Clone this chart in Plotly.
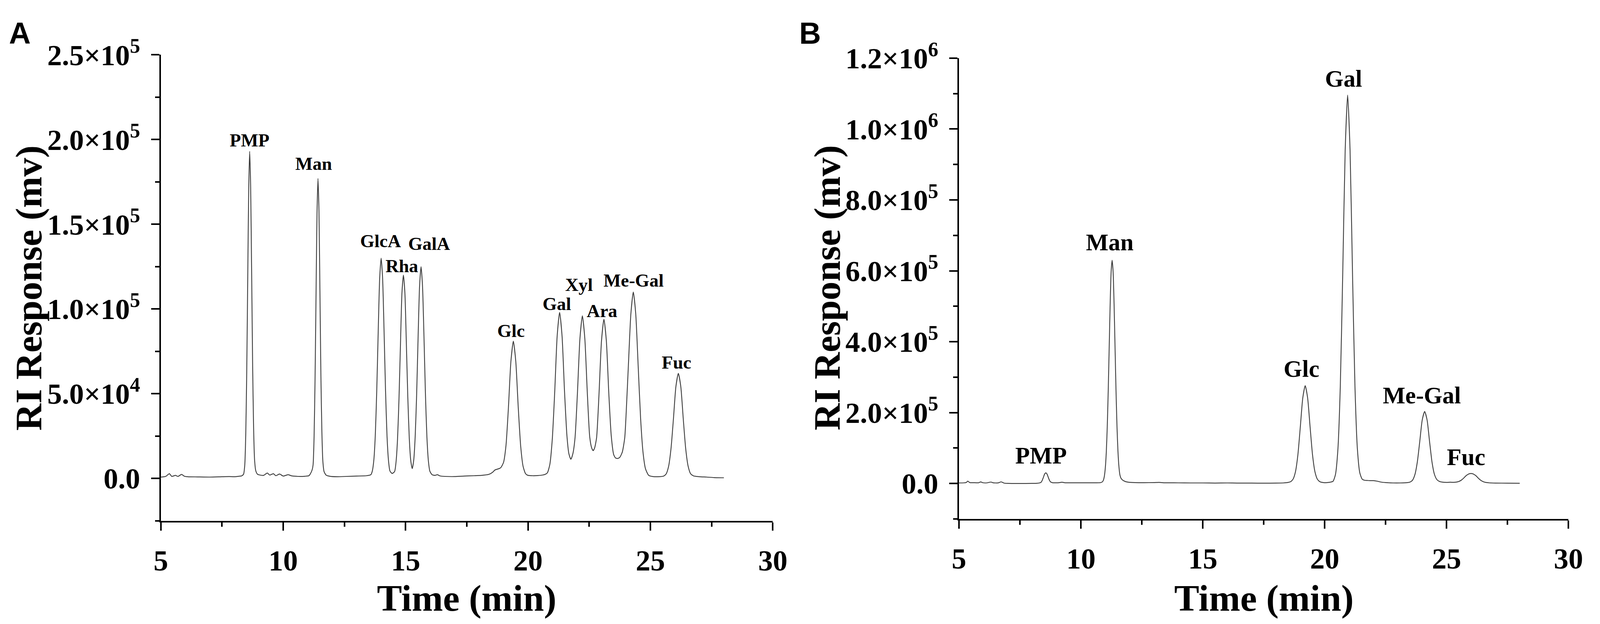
import plotly.graph_objects as go

# ---- data (time in min, response in units of 1e3 mV) ----
# panel A : standard mixture
a_trace = [
    (5.00, 0.8), (5.20, 1.2), (5.35, 2.8), (5.45, 1.2), (5.60, 1.8), (5.70, 1.2), (5.85, 2.4), (5.95, 1.4),
    (6.10, 1.0), (6.50, 0.9), (7.00, 0.8), (7.50, 1.0), (7.80, 1.1), (8.00, 1.0), (8.20, 1.3),
    (8.30, 1.5), (8.38, 2.5), (8.43, 8), (8.47, 26), (8.51, 63), (8.55, 117), (8.59, 170), (8.63, 193),
    (8.67, 172), (8.71, 122), (8.75, 68), (8.79, 30), (8.83, 11), (8.88, 4.5), (8.95, 2.5), (9.05, 2.0),
    (9.20, 1.8), (9.35, 3.2), (9.45, 2.0), (9.60, 2.8), (9.70, 1.6), (9.85, 2.6), (10.00, 1.4), (10.20, 2.2),
    (10.35, 1.5), (10.60, 1.2), (10.90, 1.3), (11.05, 1.6),
    (11.10, 2.5), (11.18, 5), (11.22, 8), (11.26, 24), (11.30, 58), (11.34, 107), (11.38, 156), (11.42, 177),
    (11.46, 158), (11.50, 110), (11.54, 60), (11.58, 27), (11.62, 10), (11.67, 4), (11.75, 2), (11.90, 1.3),
    (12.20, 1.0), (12.60, 1.2), (13.00, 1.4), (13.40, 1.6),
    (13.58, 2.2), (13.64, 4.4), (13.70, 10.6), (13.76, 25), (13.82, 51.5), (13.88, 86.5), (13.94, 118),
    (14.00, 130), (14.06, 118), (14.12, 86.5), (14.18, 51.5), (14.24, 25), (14.30, 10.6), (14.36, 4.4),
    (14.45, 2.9),
    (14.55, 4.1), (14.61, 9.9), (14.67, 23.3), (14.73, 47.5), (14.79, 79.5), (14.85, 109.5), (14.91, 120),
    (14.97, 109.5), (15.03, 79.5), (15.09, 47.5), (15.15, 23.5), (15.21, 10.5), (15.27, 5.8),
    (15.33, 10.7), (15.39, 24.5), (15.45, 49.5), (15.51, 83.5), (15.57, 113.5), (15.63, 125), (15.69, 113.5),
    (15.75, 83.5), (15.81, 49.5), (15.87, 24.3), (15.93, 10.3), (15.99, 4.3), (16.08, 2.2),
    (16.20, 1.8), (16.30, 2.2), (16.40, 1.5), (16.60, 1.2), (17.00, 1.1), (17.40, 1.4), (17.80, 1.6),
    (18.10, 1.8), (18.40, 2.4), (18.55, 3.6), (18.65, 5.0), (18.75, 5.5), (18.85, 6.0),
    (18.90, 6.6), (19.00, 9.5), (19.10, 19.5), (19.20, 42), (19.30, 69), (19.40, 81), (19.50, 69),
    (19.60, 42), (19.70, 19), (19.80, 7), (19.90, 2.8), (20.00, 1.8),
    (20.20, 1.6), (20.40, 1.7), (20.60, 2.0), (20.70, 2.4),
    (20.79, 3.3), (20.89, 8.2), (20.99, 23), (21.09, 51), (21.19, 84), (21.29, 98), (21.39, 84),
    (21.49, 51.5), (21.59, 25), (21.67, 14.5), (21.75, 11.3), (21.83, 14.5),
    (21.92, 24), (22.02, 51), (22.12, 82.5), (22.22, 96), (22.32, 82.5), (22.42, 51), (22.52, 24.5),
    (22.60, 18), (22.66, 16.4), (22.72, 18),
    (22.80, 24), (22.90, 50), (23.00, 81), (23.10, 94), (23.20, 81), (23.30, 50), (23.40, 25), (23.50, 14),
    (23.58, 12), (23.67, 11.8),
    (23.75, 12.5), (23.85, 15.5), (23.95, 24), (24.00, 36), (24.10, 67), (24.20, 97), (24.30, 110),
    (24.40, 97), (24.50, 66), (24.60, 35), (24.70, 15), (24.80, 5.6), (24.93, 1.8),
    (25.10, 1.1), (25.30, 1.0), (25.54, 1.4), (25.64, 2.6), (25.74, 7.0), (25.84, 17.6), (25.94, 35.3),
    (26.04, 54.2), (26.14, 62), (26.24, 54.2), (26.34, 35.3), (26.44, 17.6), (26.54, 7.2), (26.64, 2.8),
    (26.76, 1.5), (27.00, 1.0), (27.30, 0.8), (27.60, 0.5), (28.00, 0.4),
]

# panel B : sample
b_trace = [
    (5.00, 1.5), (5.20, 1.8), (5.30, 3.0), (5.36, 6.5), (5.44, 2.5), (5.60, 2.2), (5.80, 2.0), (5.89, 4.5),
    (5.98, 2.0), (6.15, 1.8), (6.31, 4.0), (6.40, 2.0), (6.60, 1.6), (6.73, 4.5), (6.85, 1.0), (7.00, 0.2),
    (7.50, 0.0), (8.00, 0.2), (8.20, 0.5), (8.30, 1.5),
    (8.36, 3.0), (8.41, 8.5), (8.46, 17), (8.51, 26.5), (8.56, 30), (8.61, 26.5), (8.66, 17.5), (8.71, 9),
    (8.76, 4), (8.83, 2.2), (8.95, 2.0),
    (9.10, 2.2), (9.22, 3.5), (9.35, 2.0), (9.60, 2.0), (10.00, 2.0), (10.50, 2.0), (10.80, 2.3),
    (10.88, 4.5), (10.92, 9), (10.96, 20), (11.00, 43.5), (11.04, 87), (11.08, 159), (11.12, 261),
    (11.16, 384), (11.20, 507), (11.24, 598), (11.28, 630), (11.32, 598), (11.36, 507), (11.40, 384),
    (11.44, 261), (11.48, 160), (11.52, 90), (11.56, 47), (11.60, 24), (11.65, 14), (11.72, 9),
    (11.82, 5.5), (11.95, 3.5),
    (12.20, 2.5), (12.60, 2.2), (13.00, 2.5), (13.20, 3.0), (13.40, 2.0), (14.00, 1.8), (14.50, 1.5),
    (15.00, 1.5), (15.50, 1.2), (16.00, 1.5), (16.40, 1.2), (17.00, 1.0), (17.50, 0.8), (18.00, 1.0),
    (18.30, 1.5), (18.50, 3),
    (18.60, 5), (18.70, 12), (18.80, 33), (18.90, 81), (19.00, 160), (19.10, 241), (19.20, 276),
    (19.30, 241), (19.40, 160), (19.50, 81), (19.60, 33), (19.70, 12), (19.80, 5), (19.95, 2.5),
    (20.10, 2.5), (20.22, 3.5),
    (20.34, 6), (20.44, 25), (20.54, 95), (20.64, 275), (20.74, 594), (20.84, 940), (20.94, 1096),
    (21.04, 940), (21.14, 594), (21.24, 276), (21.34, 98), (21.44, 30), (21.54, 12), (21.64, 9),
    (21.74, 8.5), (21.85, 8), (22.00, 8), (22.15, 6.5), (22.30, 4), (22.50, 2.5), (22.80, 1.5),
    (23.10, 1.5), (23.40, 2.5),
    (23.50, 4), (23.60, 9), (23.70, 25), (23.80, 61), (23.90, 119), (24.00, 179), (24.10, 203),
    (24.20, 179), (24.30, 119), (24.40, 61), (24.50, 26), (24.60, 11), (24.70, 6), (24.85, 3.5),
    (25.00, 3.0), (25.15, 3.5),
    (25.30, 3.3), (25.40, 3.9), (25.50, 5.6), (25.60, 9.2), (25.70, 15), (25.80, 22), (25.90, 26.5),
    (26.00, 28), (26.10, 26.5), (26.20, 22), (26.30, 15), (26.40, 9), (26.50, 5), (26.60, 3),
    (26.75, 1.8), (27.00, 1.2), (27.50, 0.8), (28.00, 0.5),
]

# peak labels: name, label centre time, label centre height (1e3 mV)
a_labels = ["PMP", "Man", "GlcA", "Rha", "GalA", "Glc", "Gal", "Xyl", "Ara", "Me-Gal", "Fuc"]
a_label_x = [8.62, 11.24, 13.98, 14.85, 15.96, 19.30, 21.17, 22.08, 23.02, 24.31, 26.06]
a_label_y = [199.5, 185.7, 140.1, 125.3, 138.6, 87.2, 103.0, 114.4, 98.8, 116.8, 68.4]

b_labels = ["PMP", "Man", "Glc", "Gal", "Me-Gal", "Fuc"]
b_label_x = [8.36, 11.18, 19.04, 20.78, 23.99, 25.80]
b_label_y = [79, 680, 323, 1142, 249, 75]

x_ticks = [5, 10, 15, 20, 25, 30]
x_minor = [7.5, 12.5, 17.5, 22.5, 27.5]

a_yticks = [0, 50000, 100000, 150000, 200000, 250000]
a_yticktext = ["0.0", "5.0×10<sup>4</sup>", "1.0×10<sup>5</sup>", "1.5×10<sup>5</sup>",
               "2.0×10<sup>5</sup>", "2.5×10<sup>5</sup>"]
a_yminor = [-25000, 25000, 75000, 125000, 175000, 225000]

b_yticks = [0, 200000, 400000, 600000, 800000, 1000000, 1200000]
b_yticktext = ["0.0", "2.0×10<sup>5</sup>", "4.0×10<sup>5</sup>", "6.0×10<sup>5</sup>",
               "8.0×10<sup>5</sup>", "1.0×10<sup>6</sup>", "1.2×10<sup>6</sup>"]
b_yminor = [-100000, 100000, 300000, 500000, 700000, 900000, 1100000]

# ---- figure ----
# positions are given in pixels of the 4305x1598 reference; the page body
# keeps an 8px margin and the figure width follows the page (autosize),
# so horizontal positions are kept as fractions of the width
PAGE_W, PAGE_H = 4305, 1598
OFF = 8
W, H = PAGE_W - 2 * OFF, PAGE_H - 2 * OFF
SERIF = "Liberation Serif, Times New Roman, serif"
SANS = "Liberation Sans, Arial, sans-serif"


def px(x):
    return (x - OFF) / W


def py(y):
    return 1 - (y - OFF) / H


a_t, a_r = zip(*a_trace)
b_t, b_r = zip(*b_trace)

fig = go.Figure()
fig.add_trace(go.Scatter(x=a_t, y=[v * 1000 for v in a_r], mode="lines",
                         line=dict(color="#3a3a3a", width=2.2, shape="spline", smoothing=0.6),
                         xaxis="x", yaxis="y", hoverinfo="skip"))
fig.add_trace(go.Scatter(x=b_t, y=[v * 1000 for v in b_r], mode="lines",
                         line=dict(color="#3a3a3a", width=2.2, shape="spline", smoothing=0.6),
                         xaxis="x2", yaxis="y2", hoverinfo="skip"))


def axis_style(tickvals, ticktext, minorvals, size):
    return dict(
        showline=True, linewidth=4, linecolor="black", mirror=False,
        showgrid=False, zeroline=False,
        ticks="outside", ticklen=21, tickwidth=4, tickcolor="black",
        tickmode="array", tickvals=tickvals, ticktext=ticktext,
        tickfont=dict(family=SERIF, size=size, color="black", weight="bold"),
        minor=dict(tickmode="array", tickvals=minorvals, ticks="outside",
                   ticklen=11, tickwidth=4, tickcolor="black", showgrid=False),
        fixedrange=True,
    )


x_text = [str(v) for v in x_ticks]

fig.update_layout(
    autosize=True, height=H,
    margin=dict(l=0, r=0, t=0, b=0),
    paper_bgcolor="white", plot_bgcolor="white",
    showlegend=False,
    xaxis=dict(domain=[px(418), px(2088)], range=[5, 30], anchor="y",
               ticklabelstandoff=12, **axis_style(x_ticks, x_text, x_minor, 75)),
    yaxis=dict(domain=[py(1325), py(91)], range=[-25000, 250000], anchor="x",
               ticklabelstandoff=13, **axis_style(a_yticks, a_yticktext, a_yminor, 75)),
    xaxis2=dict(domain=[px(2596), px(4259)], range=[5, 30], anchor="y2",
                ticklabelstandoff=12, **axis_style(x_ticks, x_text, x_minor, 75)),
    yaxis2=dict(domain=[py(1320), py(100)], range=[-100000, 1200000], anchor="x2",
                ticklabelstandoff=13, **axis_style(b_yticks, b_yticktext, b_yminor, 75)),
)

# peak labels
for name, x, y in zip(a_labels, a_label_x, a_label_y):
    fig.add_annotation(x=x, y=y * 1000, xref="x", yref="y", text=name, showarrow=False,
                       xanchor="center", yanchor="middle",
                       font=dict(family=SERIF, size=47, color="black", weight="bold"))
for name, x, y in zip(b_labels, b_label_x, b_label_y):
    fig.add_annotation(x=x, y=y * 1000, xref="x2", yref="y2", text=name, showarrow=False,
                       xanchor="center", yanchor="middle",
                       font=dict(family=SERIF, size=61, color="black", weight="bold"))

# axis titles
title_font = dict(family=SERIF, size=96, color="black", weight="bold")
for cx in [1253, 3428]:
    fig.add_annotation(x=px(cx), y=py(1529), xref="paper", yref="paper", text="Time (min)",
                       showarrow=False, xanchor="center", yanchor="middle", font=title_font)
for cx in [58, 2237]:
    fig.add_annotation(x=px(cx), y=py(708), xref="paper", yref="paper", text="RI Response (mv)",
                       textangle=-90, showarrow=False, xanchor="center", yanchor="middle",
                       font=title_font)

# panel letters
for letter, cx in [("A", 34), ("B", 2190)]:
    fig.add_annotation(x=px(cx), y=py(34), xref="paper", yref="paper", text=letter,
                       showarrow=False, xanchor="center", yanchor="middle",
                       font=dict(family=SANS, size=77, color="black", weight="bold"))

fig.write_html("out.html")
